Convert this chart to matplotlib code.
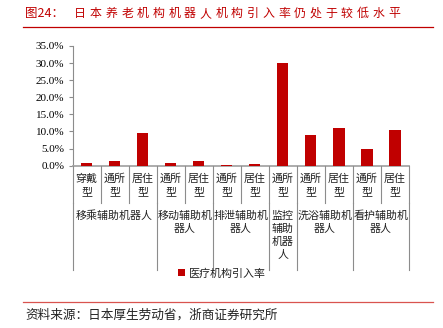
import matplotlib
matplotlib.use("Agg")
import matplotlib.pyplot as plt
import matplotlib.transforms as mtransforms
from matplotlib.lines import Line2D
import numpy as np

plt.rcParams['font.family'] = ['Noto Sans CJK SC', 'DejaVu Sans']

# data
sub_labels = ["穿戴\n型", "通所\n型", "居住\n型", "通所\n型", "居住\n型", "通所\n型", "居住\n型",
              "通所\n型", "通所\n型", "居住\n型", "通所\n型", "居住\n型"]
groups = ["移乘辅助机器人", "移动辅助机\n器人", "排泄辅助机\n器人", "监控\n辅助\n机器\n人",
          "洗浴辅助机\n器人", "看护辅助机\n器人"]
group_sizes = [3, 2, 2, 1, 2, 2]
values = [0.9, 1.3, 9.6, 0.9, 1.3, 0.2, 0.5, 29.9, 9.0, 11.1, 4.9, 10.4]
yticks = [0, 5, 10, 15, 20, 25, 30, 35]
series_name = "医疗机构引入率"
title_no = "图24："
title = "日本养老机构机器人机构引入率仍处于较低水平"
source = "资料来源：日本厚生劳动省，浙商证券研究所"

W, H = 443, 328
RED = "#C00000"


def fy(py):
    return 1 - py / H


fig = plt.figure(figsize=(W / 100, H / 100), dpi=100)
ax = fig.add_axes([72.5 / W, fy(165.7), (409 - 72.5) / W, (165.7 - 46) / H])

x = np.arange(len(values))
ax.bar(x, values, width=0.4, color=RED, label=series_name, zorder=3)
ax.set_xlim(-0.5, len(values) - 0.5)
ax.set_ylim(0, 35)
ax.set_yticks(yticks)
ax.set_yticklabels(["%.1f%%" % v for v in yticks], family="Liberation Serif", fontsize=8)
ax.set_xticks([])
for s in ["top", "right"]:
    ax.spines[s].set_visible(False)
ax.spines["left"].set_color("#8C8C8C")
ax.spines["left"].set_linewidth(0.8)
ax.spines["bottom"].set_color("#A6A6A6")
ax.spines["bottom"].set_linewidth(1.3)
ax.tick_params(axis="y", length=3, color="#8C8C8C", width=0.8, pad=3)

# multi level category axis
trans = mtransforms.blended_transform_factory(ax.transData, fig.transFigure)
for i, lab in enumerate(sub_labels):
    ax.text(i, fy(185.5), lab, transform=trans, ha="center", va="center",
            fontsize=7.9, linespacing=1.4, color="#222222")
bounds = np.concatenate([[0], np.cumsum(group_sizes)]) - 0.5
for b in np.arange(len(values) + 1) - 0.5:
    fig.add_artist(Line2D([b, b], [fy(165.7), fy(203)], transform=trans,
                          color="#8C8C8C", lw=0.8))
for b in bounds:
    fig.add_artist(Line2D([b, b], [fy(203), fy(270)], transform=trans,
                          color="#8C8C8C", lw=0.8))
for g, lab in enumerate(groups):
    c = (bounds[g] + bounds[g + 1]) / 2
    ax.text(c, fy(210.5), lab, transform=trans, ha="center", va="top",
            fontsize=7.9, linespacing=1.4, color="#222222")

fig.legend(loc="center", bbox_to_anchor=(222 / W, fy(273.5)), frameon=False,
           fontsize=7.9, handlelength=0.6, handleheight=0.6, handletextpad=0.4,
           borderpad=0, labelcolor="#222222")

# title with spaced characters
fig.text(25 / W, fy(13.5), title_no, fontsize=9, color=RED, va="center", ha="left")
for k, ch in enumerate(title):
    fig.text((80 + k * 15.7) / W, fy(13.5), ch, fontsize=8.6, color=RED,
             va="center", ha="center")
fig.add_artist(Line2D([23 / W, 433 / W], [fy(27), fy(27)], color=RED, lw=0.9))
fig.add_artist(Line2D([23 / W, 433 / W], [fy(302), fy(302)], color="#D9534F", lw=0.9))
fig.text(25 / W, fy(315), source, fontsize=9.1, color="#222222", va="center", ha="left")

fig.savefig("out.png", dpi=100)
